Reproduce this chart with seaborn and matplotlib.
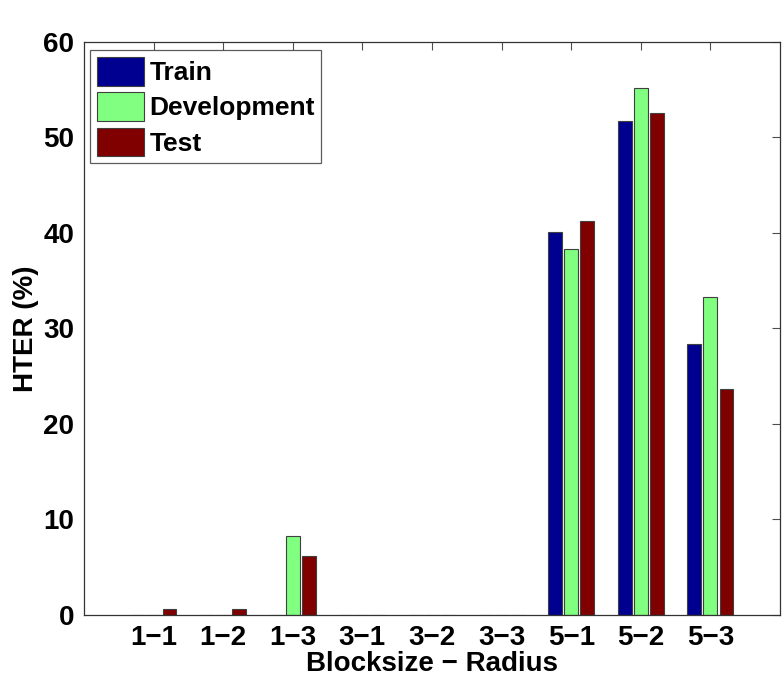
import pandas as pd
import seaborn as sns
import matplotlib.pyplot as plt
from matplotlib.ticker import MultipleLocator

categories = ['1\u22121', '1\u22122', '1\u22123', '3\u22121', '3\u22122', '3\u22123', '5\u22121', '5\u22122', '5\u22123']
train = [0, 0, 0, 0, 0, 0, 40.1, 51.7, 28.4]
development = [0, 0, 8.3, 0, 0, 0, 38.3, 55.2, 33.3]
test = [0.6, 0.6, 6.2, 0, 0, 0, 41.3, 52.6, 23.7]
series = ['Train', 'Development', 'Test']
colors = ['#000090', '#80ff80', '#800000']

rows = []
for name, vals in zip(series, [train, development, test]):
    for c, v in zip(categories, vals):
        rows.append({'cat': c, 'set': name, 'hter': v})
df = pd.DataFrame(rows)

sns.set_style('white')
plt.rcParams['font.family'] = ['Liberation Sans', 'DejaVu Sans']
plt.rcParams['font.weight'] = 'bold'
plt.rcParams['text.color'] = 'black'
plt.rcParams['axes.labelcolor'] = 'black'
plt.rcParams['xtick.color'] = 'black'
plt.rcParams['ytick.color'] = 'black'

fig = plt.figure(figsize=(7.84, 6.83), dpi=100)
ax = fig.add_axes([0.107, 0.0996, 0.888, 0.839])

sns.barplot(data=df, x='cat', y='hter', hue='set', hue_order=series,
            palette=colors, width=0.69, gap=0.13, edgecolor='0.25',
            linewidth=0.8, saturation=1, ax=ax)

ax.set_xlim(-1, 9)
ax.set_ylim(0, 60)
ax.yaxis.set_major_locator(MultipleLocator(10))
ax.set_xlabel('Blocksize \u2212 Radius', fontsize=20, fontweight='bold', labelpad=0)
ax.set_ylabel('HTER (%)', fontsize=20, fontweight='bold', labelpad=3)
ax.tick_params(axis='both', which='major', direction='in', length=6, width=0.8,
               top=True, right=True, labelsize=20, color='0.3', pad=7)
for lbl in ax.get_xticklabels() + ax.get_yticklabels():
    lbl.set_fontweight('bold')
for s in ax.spines.values():
    s.set_visible(True)
    s.set_color('0.2')
    s.set_linewidth(0.9)

leg = ax.legend(loc='upper left', bbox_to_anchor=(0.005, 0.99),
                prop={'weight': 'bold', 'size': 19}, frameon=True, fancybox=False,
                edgecolor='0.2', handlelength=1.8, handleheight=1.3,
                handletextpad=0.2, labelspacing=0.25, borderpad=0.25,
                borderaxespad=0.1)
leg.get_frame().set_linewidth(0.9)

fig.savefig('out.png', dpi=100)
